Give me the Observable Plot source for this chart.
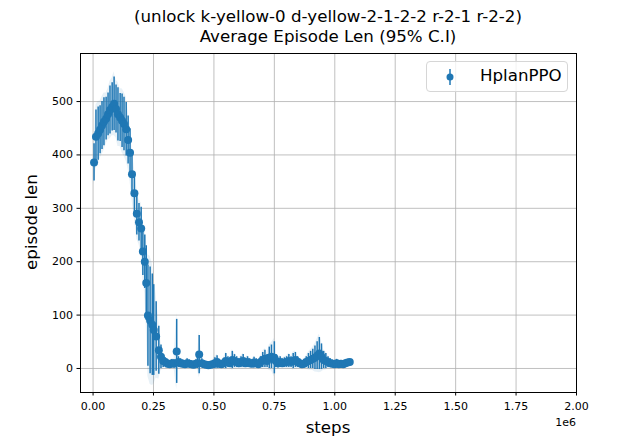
<!DOCTYPE html>
<html>
<head>
<meta charset="utf-8">
<script src="https://cdn.jsdelivr.net/npm/d3@7"></script>
<script src="https://cdn.jsdelivr.net/npm/@observablehq/plot@0.6"></script>
<style>
  body { margin: 0; background: #fff; font-family: "DejaVu Sans", sans-serif; }
  #wrap { position: relative; width: 640px; height: 440px; overflow: hidden; }
  #wrap svg { position: absolute; left: 0; top: 0; }
  .lbl { position: absolute; color: #000; white-space: nowrap; font-family: "DejaVu Sans", sans-serif; }
</style>
</head>
<body>
<div id="wrap">
  <div class="lbl" id="title" style="left:8px; top:7px; width:640px; text-align:center; font-size:16.67px; line-height:20px;">(unlock k-yellow-0 d-yellow-2-1-2-2 r-2-1 r-2-2)<br>Average Episode Len (95% C.I)</div>
</div>
<script>
// steps (in units of 1e6)
const steps = [
  0.004,0.012,0.021,0.029,0.037,0.045,0.054,0.062,0.070,0.079,
  0.087,0.095,0.103,0.112,0.120,0.128,0.137,0.145,0.153,0.161,
  0.171,0.181,0.190,0.199,0.206,0.214,0.220,0.227,0.236,0.245,
  0.251,0.261,0.272,0.281,0.290,
  0.299,0.308,0.317,0.326,0.335,0.346,0.353,0.362,0.371,0.380,
  0.389,0.398,0.407,0.416,0.425,0.432,0.439,0.450,0.459,0.468,
  0.477,0.486,0.495,0.504,0.513,0.522,0.531,0.540,0.549,0.558,
  0.567,0.576,0.585,0.594,0.603,0.612,0.621,0.630,0.639,0.648,
  0.657,0.666,0.675,0.684,0.693,0.702,0.711,0.720,0.729,0.738,
  0.750,0.756,0.765,0.774,0.783,0.792,0.801,0.810,0.819,0.828,
  0.837,0.846,0.855,0.864,0.873,0.882,0.891,0.900,0.909,0.918,
  0.927,0.936,0.945,0.954,0.963,0.972,0.981,0.990,0.999,1.008,
  1.017,1.026,1.035,1.044,1.053,1.062
];
// mean episode length
const meanLen = [
  386,434,440,447,455,462,468,476,484,490,
  496,486,476,470,464,458,448,428,404,364,
  328,290,274,262,219,200,160,99,90,82,
  72,60,34,22,14,
  12,9,8,10,9,32,12,10,9,8,
  10,9,8,7,9,10,26,10,8,7,
  6,7,8,10,12,9,8,10,14,12,
  10,16,14,12,10,12,14,10,12,10,
  9,11,10,8,12,16,18,14,20,22,
  20,14,10,12,10,11,12,14,12,14,
  16,12,10,8,9,12,14,16,18,20,
  24,28,22,16,14,12,10,9,8,10,
  8,9,8,10,11,12
];
// 95% C.I. half-width
const ciHalf = [
  35,50,50,45,45,45,40,40,45,45,
  50,45,50,45,50,50,50,45,45,40,
  40,40,35,40,45,50,70,95,100,95,
  85,65,45,22,12,
  8,6,6,7,8,60,10,8,7,6,
  8,7,6,5,7,10,36,8,6,5,
  5,6,7,10,12,8,6,8,14,10,
  8,16,12,10,8,10,12,8,10,8,
  7,10,8,7,10,14,16,12,20,22,
  30,12,9,10,8,9,10,12,10,14,
  14,10,8,7,8,10,14,16,18,22,
  26,30,24,16,14,10,8,7,6,7,
  6,6,5,6,5,5
];
const seriesName = "HplanPPO";
const xTicks = [0, 0.25, 0.5, 0.75, 1.0, 1.25, 1.5, 1.75, 2.0];
const yTicks = [0, 100, 200, 300, 400, 500];

const data = steps.map((s, i) => ({x: s, y: meanLen[i], ci: ciHalf[i]}));
const blue = "#1f77b4";

const chart = Plot.plot({
  width: 640,
  height: 440,
  marginTop: 53,
  marginBottom: 48,
  marginLeft: 80,
  marginRight: 64,
  style: {fontFamily: "DejaVu Sans, sans-serif", background: "transparent", overflow: "visible"},
  x: {domain: [-0.052, 2.0], label: null},
  y: {domain: [-45, 590], label: null},
  marks: [
    Plot.gridX(xTicks, {stroke: "#b0b0b0", strokeOpacity: 1, strokeWidth: 0.8}),
    Plot.gridY(yTicks, {stroke: "#b0b0b0", strokeOpacity: 1, strokeWidth: 0.8}),
    Plot.areaY(data, {x: "x", y1: d => d.y - d.ci * 1.2, y2: d => d.y + d.ci * 1.2, fill: blue, fillOpacity: 0.1, curve: "linear"}),
    Plot.ruleX(data, {x: "x", y1: d => d.y - d.ci, y2: d => d.y + d.ci, stroke: blue, strokeWidth: 1.5}),
    Plot.dot(data, {x: "x", y: "y", r: 4, fill: blue, stroke: "none"}),
    Plot.axisX(xTicks, {tickSize: 3.5, tickPadding: 6, fontSize: 11, tickFormat: d3.format(".2f"), label: null, stroke: "black"}),
    Plot.axisY(yTicks, {tickSize: 3.5, tickPadding: 4, fontSize: 11, tickFormat: d => String(d), label: null, stroke: "black"}),
    Plot.frame({stroke: "black", strokeWidth: 1})
  ]
});

const wrap = document.getElementById("wrap");
wrap.insertBefore(chart, wrap.firstChild);

function addLabel(html, style) {
  const d = document.createElement("div");
  d.className = "lbl";
  d.innerHTML = html;
  d.setAttribute("style", style);
  wrap.appendChild(d);
  return d;
}
addLabel("steps", "left:278px; top:418px; width:100px; text-align:center; font-size:16.67px; line-height:20px;");
addLabel("episode len", "left:-18px; top:212px; width:100px; text-align:center; font-size:16.67px; line-height:20px; transform:rotate(-90deg);");
addLabel("1e6", "left:536px; top:416px; width:40px; text-align:right; font-size:11px; line-height:13px;");

// legend
addLabel(
  '<svg width="20" height="22" style="position:absolute; left:13px; top:4px;">' +
  '<line x1="10" y1="3" x2="10" y2="19" stroke="' + blue + '" stroke-width="1.5"></line>' +
  '<circle cx="10" cy="11" r="3.5" fill="' + blue + '"></circle></svg>' +
  '<span style="position:absolute; left:53px; top:4px; font-size:16.67px; line-height:20px;">' + seriesName + '</span>',
  "left:426px; top:61px; width:140px; height:29px; border:1px solid #d6d6d6; border-radius:4px; background:rgba(255,255,255,0.8);"
);
</script>
</body>
</html>
